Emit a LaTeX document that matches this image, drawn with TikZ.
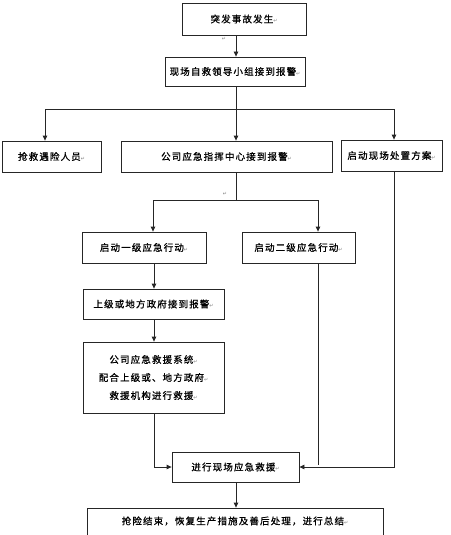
\documentclass[tikz,border=0pt]{standalone}
\usepackage{fontspec}
\newfontfamily\cjk[LetterSpace=12,FakeBold=0.8]{Noto Sans CJK SC}
\newfontfamily\symf{DejaVu Sans}
\usetikzlibrary{arrows.meta}
\newcommand{\parmark}{{\symf\fontsize{5}{5}\selectfont\textcolor{gray}{↵}}}
\tikzset{
  box/.style={draw=black!85, line width=0.8pt, inner sep=0pt, align=center,
    font=\cjk\fontsize{9.5}{18}\selectfont},
  conn/.style={draw=black!85, line width=0.8pt},
  arr/.style={conn, -{Triangle[width=4.5pt,length=5pt]}}
}
\begin{document}
\begin{tikzpicture}[x=1pt,y=-1pt]
\useasboundingbox (0,0) rectangle (450,535);
\clip (0,0) rectangle (450,535);
\fill[white] (0,0) rectangle (450,535);
% boxes
\node[box, minimum width=124pt, minimum height=32pt] (b1) at (244,19) {突发事故发生\parmark};
\node[box, minimum width=140pt, minimum height=29pt] (b2) at (235,71.5) {现场自救领导小组接到报警\parmark};
\node[box, minimum width=99pt, minimum height=31pt] (b3) at (51.5,156.5) {抢救遇险人员\parmark};
\node[box, minimum width=211pt, minimum height=31pt] (b4) at (226.5,156.5) {公司应急指挥中心接到报警\parmark};
\node[box, minimum width=101pt, minimum height=31pt] (b5) at (391.5,155.5) {启动现场处置方案\parmark};
\node[box, minimum width=124pt, minimum height=31pt] (b6) at (144,247.5) {启动一级应急行动\parmark};
\node[box, minimum width=113pt, minimum height=31pt] (b7) at (298.5,247.5) {启动二级应急行动\parmark};
\node[box, minimum width=141pt, minimum height=30pt] (b8) at (153.5,304) {上级或地方政府接到报警\parmark};
\node[box, minimum width=141pt, minimum height=71pt] (b9) at (153.5,377.5) {公司应急救援系统\parmark\\配合上级或、地方政府\parmark\\救援机构进行救援\parmark};
\node[box, minimum width=127pt, minimum height=30pt] (b10) at (235.5,467) {进行现场应急救援\parmark};
\node[box, minimum width=296pt, minimum height=52pt] (b11) at (235,534) {};
\node[font=\cjk\fontsize{9.5}{12}\selectfont] (t11) at (235,521) {抢险结束，恢复生产措施及善后处理，进行总结\parmark};
% coordinates
\coordinate (c) at (236,0);
\coordinate (j1) at (236,109);
\coordinate (j2) at (236,200);
\coordinate (l1) at (45,109);
\coordinate (r1) at (394,109);
\coordinate (l2) at (153,200);
\coordinate (r2) at (318,200);
\coordinate (j3) at (318,465);
\coordinate (v) at (154,0);
% paragraph marks
\node[inner sep=0pt] (m1) at (224,39) {\parmark};
\node[inner sep=0pt] (m2) at (225,194) {\parmark};
% connectors
\draw[arr] (b1.south -| c) -- (b2.north -| c);
\draw[conn] (b2.south -| c) -- (j1);
\draw[conn] (l1) -- (r1);
\draw[arr] (l1) -- (b3.north -| l1);
\draw[arr] (j1) -- (b4.north -| j1);
\draw[arr] (r1) -- (b5.north -| r1);
\draw[conn] (b4.south -| c) -- (j2);
\draw[conn] (l2) -- (r2);
\draw[arr] (l2) -- (b6.north -| l2);
\draw[arr] (r2) -- (b7.north -| r2);
\draw[arr] (b6.south -| v) -- (b8.north -| v);
\draw[arr] (b8.south -| v) -- (b9.north -| v);
\draw[arr] (b9.south -| v) |- (b10.west);
\draw[conn] (b7.south -| j3) -- (j3);
\draw[arr] (b5.south -| r1) |- (b10.east);
\draw[arr] (b10.south -| c) -- (b11.north -| c);
\end{tikzpicture}
\end{document}
